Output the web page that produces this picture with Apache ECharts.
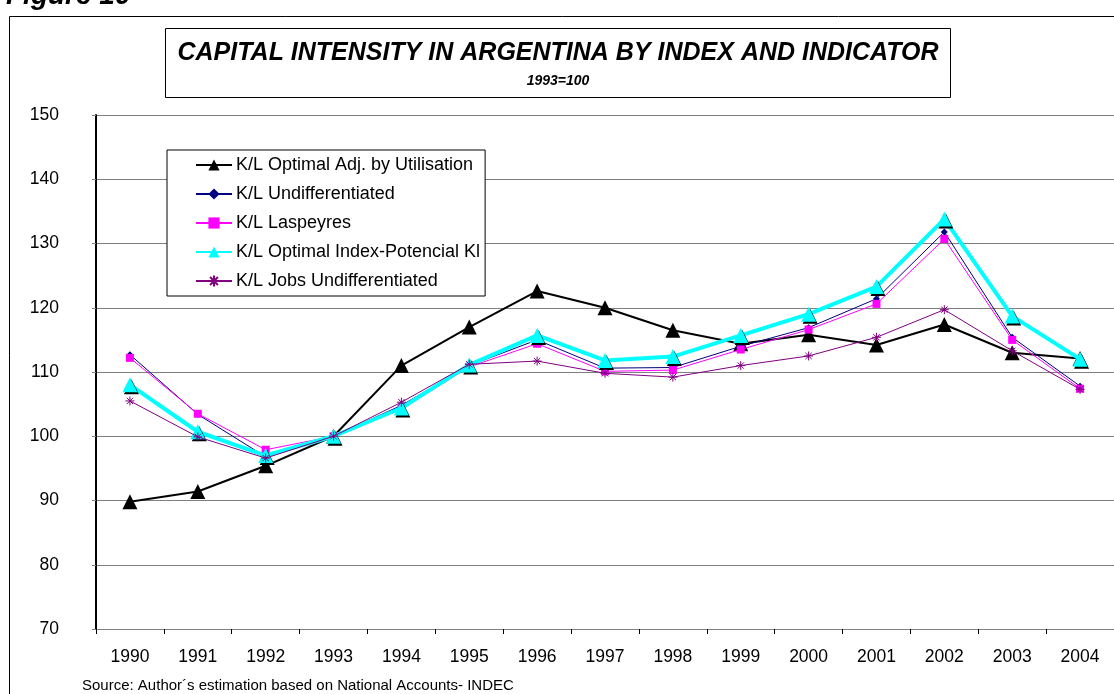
<!DOCTYPE html>
<html>
<head>
<meta charset="utf-8">
<script src="https://cdn.jsdelivr.net/npm/echarts@6/dist/echarts.min.js"></script>
<style>
  html, body { margin: 0; padding: 0; background: #fff; }
  #chart { width: 1114px; height: 694px; }
</style>
</head>
<body>
<div id="chart"></div>
<script>
  // Capital intensity in Argentina, 1993 = 100
  var years = ['1990', '1991', '1992', '1993', '1994', '1995', '1996', '1997', '1998', '1999', '2000', '2001', '2002', '2003', '2004']

  var optimalAdj = [89.8, 91.4, 95.4, 100, 111.0, 117.0, 122.6, 120.0, 116.5, 114.4, 115.8, 114.2, 117.4, 113.0, 112.1]
  var undifferentiated = [112.7, 103.4, 96.8, 100, 104.8, 111.0, 115.0, 110.6, 110.7, 114.0, 116.9, 121.4, 131.8, 115.4, 107.8]
  var laspeyres = [112.2, 103.5, 97.9, 100, 104.2, 110.8, 114.4, 110.1, 110.3, 113.5, 116.6, 120.6, 130.7, 115.0, 107.4]
  var optimalIndex = [108.0, 100.7, 97.0, 100, 104.4, 111.1, 115.7, 111.8, 112.4, 115.7, 119.0, 123.3, 133.8, 118.7, 112.0]
  var jobsUndiff = [105.5, 99.9, 96.6, 100, 105.3, 111.2, 111.7, 109.8, 109.2, 111.0, 112.5, 115.4, 119.7, 113.3, 107.3]

  var names = [
    'K/L Optimal Adj. by Utilisation',
    'K/L Undifferentiated',
    'K/L Laspeyres',
    'K/L Optimal Index-Potencial Kl',
    'K/L Jobs Undifferentiated'
  ]

  var font = 'Arial, "Liberation Sans", sans-serif'
  // asterisk marker drawn as strokes
  var star = 'path://M0,5L10,5M5,0L5,10M1.5,1.5L8.5,8.5M8.5,1.5L1.5,8.5'

  var chart = echarts.init(document.getElementById('chart'))

  chart.setOption({
    animation: false,
    backgroundColor: '#fff',
    textStyle: { fontFamily: font },
    graphic: [
      {
        type: 'rect',
        z: -10,
        shape: { x: 9.5, y: 16.5, width: 1200, height: 700 },
        style: { fill: '#fff', stroke: '#000', lineWidth: 1 }
      },
      {
        type: 'text',
        left: 6,
        top: -18,
        style: { text: 'Figure 10', font: 'italic bold 28px ' + font, fill: '#000' }
      },
      {
        type: 'rect',
        shape: { x: 165.5, y: 28.5, width: 785, height: 69 },
        style: { fill: '#fff', stroke: '#000', lineWidth: 1 }
      },
      {
        type: 'text',
        x: 558,
        y: 53,
        style: {
          text: 'CAPITAL INTENSITY IN ARGENTINA BY INDEX AND INDICATOR',
          font: 'italic bold 25px ' + font,
          fill: '#000',
          align: 'center',
          verticalAlign: 'middle'
        }
      },
      {
        type: 'text',
        x: 558,
        y: 81,
        style: {
          text: '1993=100',
          font: 'italic bold 14px ' + font,
          fill: '#000',
          align: 'center',
          verticalAlign: 'middle'
        }
      },
      {
        type: 'text',
        x: 82,
        y: 686,
        style: {
          text: 'Source: Author\u00b4s estimation based on National Accounts- INDEC',
          font: '15px ' + font,
          fill: '#000',
          verticalAlign: 'middle'
        }
      }
    ],
    legend: {
      orient: 'vertical',
      left: 167,
      top: 150,
      padding: [6, 5, 6, 28],
      itemWidth: 36,
      itemHeight: 14,
      itemGap: 11,
      backgroundColor: '#fff',
      borderColor: '#000',
      borderWidth: 1,
      borderRadius: 0,
      textStyle: { fontSize: 18, color: '#000', fontFamily: font, padding: [0, 0, 0, -1] },
      data: names
    },
    grid: {
      left: 96,
      top: 115,
      width: 1020,
      bottom: 65
    },
    xAxis: {
      type: 'category',
      data: years,
      boundaryGap: true,
      axisLine: { lineStyle: { color: '#808080', width: 1 } },
      axisTick: { show: true, length: 5, lineStyle: { color: '#000' } },
      axisLabel: { fontSize: 17.5, color: '#000', margin: 19, fontFamily: font },
      splitLine: { show: false }
    },
    yAxis: {
      type: 'value',
      min: 70,
      max: 150,
      interval: 10,
      axisLine: { show: true, lineStyle: { color: '#000', width: 2 } },
      axisTick: { show: true, length: 4, lineStyle: { color: '#808080' } },
      axisLabel: { fontSize: 17.5, color: '#000', margin: 37, fontFamily: font },
      splitLine: { show: true, lineStyle: { color: '#808080', width: 1 } }
    },
    series: [
      {
        name: names[0],
        type: 'line',
        data: optimalAdj,
        symbol: 'triangle',
        symbolSize: 15,
        z: 3,
        lineStyle: { color: '#000', width: 2 },
        itemStyle: { color: '#000' }
      },
      {
        name: names[1],
        type: 'line',
        data: undifferentiated,
        symbol: 'diamond',
        symbolSize: 7,
        z: 4,
        lineStyle: { color: '#000080', width: 1 },
        itemStyle: { color: '#000080' }
      },
      {
        name: names[2],
        type: 'line',
        data: laspeyres,
        symbol: 'rect',
        symbolSize: 8,
        z: 5,
        lineStyle: { color: '#ff00ff', width: 1 },
        itemStyle: { color: '#ff00ff' }
      },
      {
        name: names[3],
        type: 'line',
        data: optimalIndex,
        symbol: 'triangle',
        symbolSize: 15,
        z: 6,
        lineStyle: { color: '#00ffff', width: 4 },
        itemStyle: { color: '#00ffff', shadowColor: '#000', shadowOffsetX: 1.5, shadowOffsetY: 2, shadowBlur: 0 }
      },
      {
        name: names[4],
        type: 'line',
        data: jobsUndiff,
        symbol: star,
        symbolSize: 9,
        z: 7,
        lineStyle: { color: '#800080', width: 1 },
        itemStyle: { color: 'rgba(0,0,0,0)', borderColor: '#800080', borderWidth: 1 }
      }
    ]
  })
</script>
</body>
</html>
